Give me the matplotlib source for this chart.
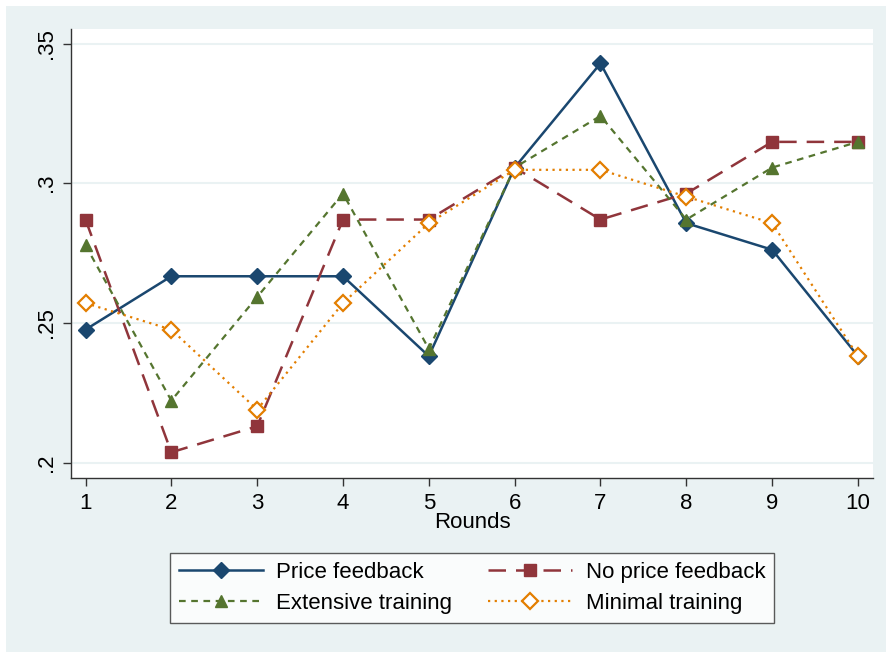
import matplotlib.pyplot as plt
from matplotlib.patches import Rectangle

plt.rcParams['font.family'] = ['Liberation Sans', 'DejaVu Sans']

rounds = [1, 2, 3, 4, 5, 6, 7, 8, 9, 10]
price_feedback = [0.2476, 0.2667, 0.2667, 0.2667, 0.2381, 0.3056, 0.3429, 0.2857, 0.2762, 0.2381]
no_price_feedback = [0.2870, 0.2037, 0.2130, 0.2870, 0.2870, 0.3056, 0.2870, 0.2963, 0.3148, 0.3148]
extensive_training = [0.2778, 0.2222, 0.2593, 0.2963, 0.2407, 0.3056, 0.3241, 0.2870, 0.3056, 0.3148]
minimal_training = [0.2571, 0.2476, 0.2190, 0.2571, 0.2857, 0.3048, 0.3048, 0.2952, 0.2857, 0.2381]

yticks = [0.2, 0.25, 0.3, 0.35]
ytick_labels = [".2", ".25", ".3", ".35"]

bg = "#EAF2F3"
fig = plt.figure(figsize=(8.86, 6.52), dpi=100, facecolor="white")
fig.patches.append(Rectangle((6/886, 0), 1, 1 - 6/652, transform=fig.transFigure,
                             facecolor=bg, edgecolor="none", zorder=-10))

ax = fig.add_axes([71/886, 1 - 478/652, (873-71)/886, (478-29)/652])
ax.set_facecolor("white")

l1, = ax.plot(rounds, price_feedback, color="#1a476f", linestyle="-", linewidth=1.8,
              marker="D", markersize=8, label="Price feedback")
l2, = ax.plot(rounds, no_price_feedback, color="#90353b", linestyle=(0, (7, 4)), linewidth=1.8,
              marker="s", markersize=8, label="No price feedback")
l3, = ax.plot(rounds, extensive_training, color="#55752f", linestyle=(0, (3, 2.5)), linewidth=1.6,
              marker="^", markersize=8.5, label="Extensive training")
l4, = ax.plot(rounds, minimal_training, color="#e37e00", linestyle=(0, (1, 2)), linewidth=1.6,
              marker="D", markersize=8, markerfacecolor="white", markeredgewidth=1.6,
              label="Minimal training")

ax.set_xlim(0.831, 10.175)
ax.set_ylim(0.1945, 0.3552)
ax.set_xticks(rounds)
ax.set_yticks(yticks)
ax.set_yticklabels(ytick_labels, rotation=90, va="center")
ax.tick_params(axis="both", labelsize=16, length=6, width=1, color="#333333", direction="out")
ax.tick_params(axis="x", pad=5)
ax.tick_params(axis="y", pad=4)
ax.grid(axis="y", color=bg, linewidth=1.5)
ax.set_axisbelow(True)
for s in ["top", "right"]:
    ax.spines[s].set_visible(False)
for s in ["left", "bottom"]:
    ax.spines[s].set_color("#333333")
    ax.spines[s].set_linewidth(1)

ax.set_xlabel("Rounds", fontsize=16)
ax.xaxis.set_label_coords(0.5, -0.076)

# stata fills legend row-wise, matplotlib column-wise
leg = fig.legend([l1, l3, l2, l4],
                 [l1.get_label(), l3.get_label(), l2.get_label(), l4.get_label()],
                 loc="center", bbox_to_anchor=(472/886, 1 - 588/652), ncol=2,
                 fontsize=16, frameon=True, fancybox=False, handlelength=3.8,
                 handletextpad=0.6, columnspacing=1.6, borderpad=0.4, labelspacing=0.45,
                 borderaxespad=0)
leg.get_frame().set_edgecolor("#333333")
leg.get_frame().set_linewidth(1)

plt.savefig("out.png", dpi=100, facecolor=fig.get_facecolor())
